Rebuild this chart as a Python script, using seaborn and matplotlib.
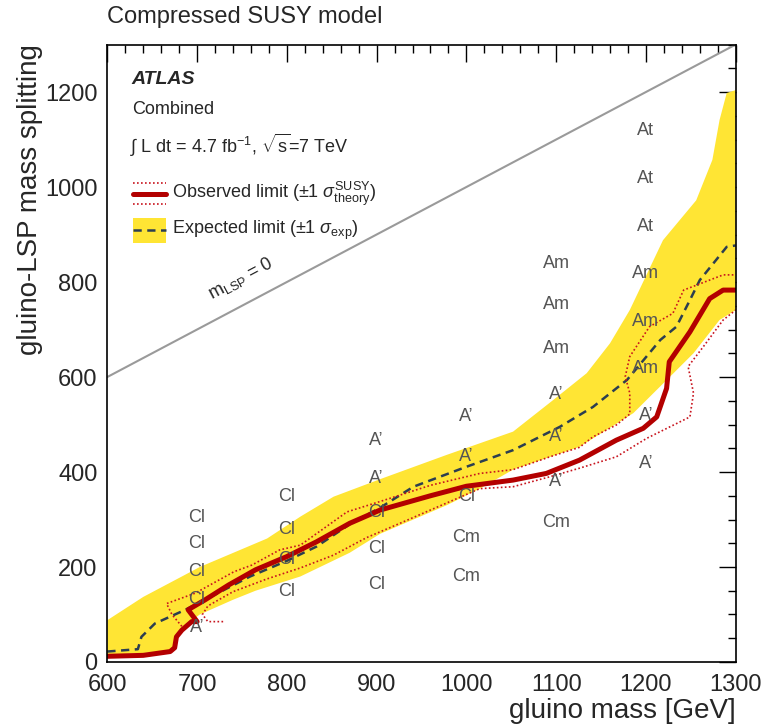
import numpy as np
import seaborn as sns
import matplotlib.pyplot as plt
from matplotlib.ticker import MultipleLocator

# observed limit (thick red)
obs_x = [600, 640, 670, 675, 677, 683, 694, 700, 690, 709, 735, 765, 800, 833, 870, 904,
         960, 1000, 1052, 1089, 1126, 1167, 1197, 1212, 1223, 1226, 1249, 1271, 1286, 1300]
obs_y = [12, 14, 22, 30, 53, 67, 85, 85, 110, 131, 162, 194, 222, 253, 292, 320,
         350, 370, 383, 397, 425, 467, 492, 516, 576, 632, 695, 765, 783, 783]

# +-1 sigma theory (dotted red)
thu_x = [683, 672, 666, 698, 741, 761, 792, 815, 867, 904, 960, 1015, 1052, 1093, 1126,
         1141, 1167, 1182, 1182, 1177, 1182, 1204, 1230, 1242, 1286, 1300]
thu_y = [75, 100, 123, 145, 190, 204, 236, 246, 316, 338, 372, 397, 405, 432, 452,
         474, 499, 522, 566, 601, 643, 706, 734, 783, 815, 815]
thl_x = [729, 712, 706, 712, 740, 778, 815, 852, 889, 926, 960, 1015, 1052, 1093, 1126,
         1167, 1201, 1249, 1253, 1247, 1264, 1286, 1300]
thl_y = [85, 85, 100, 118, 148, 175, 198, 225, 262, 292, 320, 365, 369, 390, 408,
         432, 471, 516, 566, 622, 664, 720, 741]

# expected limit (dashed) and +-1 sigma band
exp_x = [600, 634, 638, 653, 687, 720, 759, 800, 833, 870, 904, 941, 1000, 1052, 1104,
         1141, 1179, 1216, 1234, 1249, 1260, 1290, 1300]
exp_y = [22, 27, 53, 81, 110, 142, 180, 213, 243, 290, 325, 369, 411, 446, 495,
         537, 594, 678, 706, 762, 804, 874, 877]
band_hi_x = [600, 640, 703, 778, 815, 852, 904, 978, 1052, 1097, 1134, 1160, 1182, 1219,
             1256, 1274, 1282, 1290, 1300]
band_hi_y = [88, 137, 200, 260, 306, 348, 385, 436, 485, 552, 608, 671, 741, 888,
             972, 1057, 1141, 1198, 1204]
band_lo_x = [600, 672, 680, 692, 703, 740, 765, 815, 870, 904, 978, 1015, 1052, 1126,
             1186, 1227, 1253, 1282, 1300]
band_lo_y = [15, 22, 55, 85, 100, 131, 150, 180, 230, 270, 330, 365, 405, 453,
             524, 601, 650, 720, 741]

diag_x = [600, 1300]

# best signal region labels
reg_x = [700, 700, 700, 700, 700,
         800, 800, 800, 800,
         900, 900, 900, 900, 900,
         1000, 1000, 1000, 1000, 1000,
         1100, 1100, 1100, 1100, 1100, 1100, 1100,
         1200, 1200, 1200, 1200, 1200, 1200, 1200, 1200]
reg_y = [305, 250, 190, 131, 72,
         348, 280, 215, 148,
         467, 387, 314, 240, 164,
         516, 432, 349, 263, 179,
         838, 752, 659, 564, 474, 381, 293,
         1118, 1017, 916, 817, 716, 617, 518, 417]
reg_txt = ["Cl", "Cl", "Cl", "Cl", "A’",
           "Cl", "Cl", "Cl", "Cl",
           "A’", "A’", "Cl", "Cl", "Cl",
           "A’", "A’", "Cl", "Cm", "Cm",
           "Am", "Am", "Am", "A’", "A’", "A’", "Cm",
           "At", "At", "At", "Am", "Am", "Am", "A’", "A’"]

red = "#b30000"
red_dot = "#c8141e"
yellow = "#ffe534"
dash_col = "#2c3e50"

sns.set_style("white")
plt.rcParams['font.family'] = ['Liberation Sans', 'DejaVu Sans']
plt.rcParams['mathtext.fontset'] = 'custom'
plt.rcParams['mathtext.rm'] = 'Liberation Sans'
plt.rcParams['mathtext.it'] = 'Liberation Sans:italic'
plt.rcParams['mathtext.bf'] = 'Liberation Sans:bold'
plt.rcParams['mathtext.sf'] = 'Liberation Sans'

fig = plt.figure(figsize=(7.65, 7.25), dpi=100)
ax = fig.add_axes([0.1403, 0.0869, 0.8214, 0.8517])

ax.fill(np.r_[band_hi_x, band_lo_x[::-1]], np.r_[band_hi_y, band_lo_y[::-1]],
        color=yellow, lw=0, zorder=1)

sns.lineplot(x=diag_x, y=diag_x, color="#9a9a9a", lw=1.5, ax=ax)
sns.lineplot(x=exp_x, y=exp_y, sort=False, estimator=None, color=dash_col, lw=1.8,
             linestyle=(0, (3.3, 2.2)), ax=ax)
sns.lineplot(x=thu_x, y=thu_y, sort=False, estimator=None, color=red_dot, lw=1.2,
             linestyle=(0, (1, 1.4)), ax=ax)
sns.lineplot(x=thl_x, y=thl_y, sort=False, estimator=None, color=red_dot, lw=1.2,
             linestyle=(0, (1, 1.4)), ax=ax)
sns.lineplot(x=obs_x, y=obs_y, sort=False, estimator=None, color=red, lw=3.6, ax=ax)

for x, y, t in zip(reg_x, reg_y, reg_txt):
    ax.text(x, y, t, ha='center', va='center', fontsize=13, color='#555555', zorder=5)

ax.text(749, 808, "m$_{\\mathrm{LSP}}$ = 0", rotation=27.9, rotation_mode='anchor',
        ha='center', va='center', fontsize=13)

ax.set_xlim(600, 1300)
ax.set_ylim(0, 1300)
ax.xaxis.set_major_locator(MultipleLocator(100))
ax.xaxis.set_minor_locator(MultipleLocator(20))
ax.yaxis.set_major_locator(MultipleLocator(200))
ax.yaxis.set_minor_locator(MultipleLocator(50))
ax.tick_params(which='major', direction='in', length=12, width=1, top=True, right=True,
               labelsize=17, pad=7, color='black')
ax.tick_params(axis='x', which='major', pad=9)
ax.tick_params(which='minor', direction='in', length=6, width=1, top=True, right=True,
               color='black')
for s in ax.spines.values():
    s.set_color('black')
    s.set_linewidth(1.2)

ax.set_xlabel("gluino mass [GeV]", fontsize=20, loc='right')
ax.xaxis.set_label_coords(1.0, -0.079)
ax.xaxis.label.set_va('center')
ax.set_ylabel("gluino-LSP mass splitting", fontsize=20, loc='top')
ax.yaxis.set_label_coords(-0.123, 1.0)
ax.yaxis.label.set_va('center')

fig.text(0.1403, 1 - 17 / 725, "Compressed SUSY model", fontsize=17, va='center')

# legend block
tr = ax.transAxes
ax.text(0.039, 0.944, "ATLAS", transform=tr, fontsize=14, fontweight='bold',
        style='italic', va='center')
ax.text(0.039, 0.894, "Combined", transform=tr, fontsize=13, va='center')
ax.text(0.036, 0.837, "$\\int$ L dt = 4.7 fb$^{-1}$, $\\sqrt{\\mathrm{s}}$=7 TeV",
        transform=tr, fontsize=13, va='center')
ax.plot([0.041, 0.0934], [0.776, 0.776], transform=tr, color=red_dot, lw=1.2,
        linestyle=(0, (1, 1.4)))
ax.plot([0.041, 0.0934], [0.741, 0.741], transform=tr, color=red_dot, lw=1.2,
        linestyle=(0, (1, 1.4)))
ax.plot([0.041, 0.0934], [0.7585, 0.7585], transform=tr, color=red, lw=3.6)
ax.text(0.103, 0.7585, "Observed limit (±1 $\\sigma^{\\mathrm{SUSY}}_{\\mathrm{theory}}$)",
        transform=tr, fontsize=13, va='center')
ax.fill_between([0.041, 0.0934], 0.679, 0.719, transform=tr, color=yellow, lw=0)
ax.plot([0.041, 0.0934], [0.699, 0.699], transform=tr, color=dash_col, lw=1.8,
        linestyle=(0, (3.3, 2.2)))
ax.text(0.103, 0.699, "Expected limit (±1 $\\sigma_{\\mathrm{exp}}$)", transform=tr,
        fontsize=13, va='center')

plt.savefig("out.png", dpi=100)
